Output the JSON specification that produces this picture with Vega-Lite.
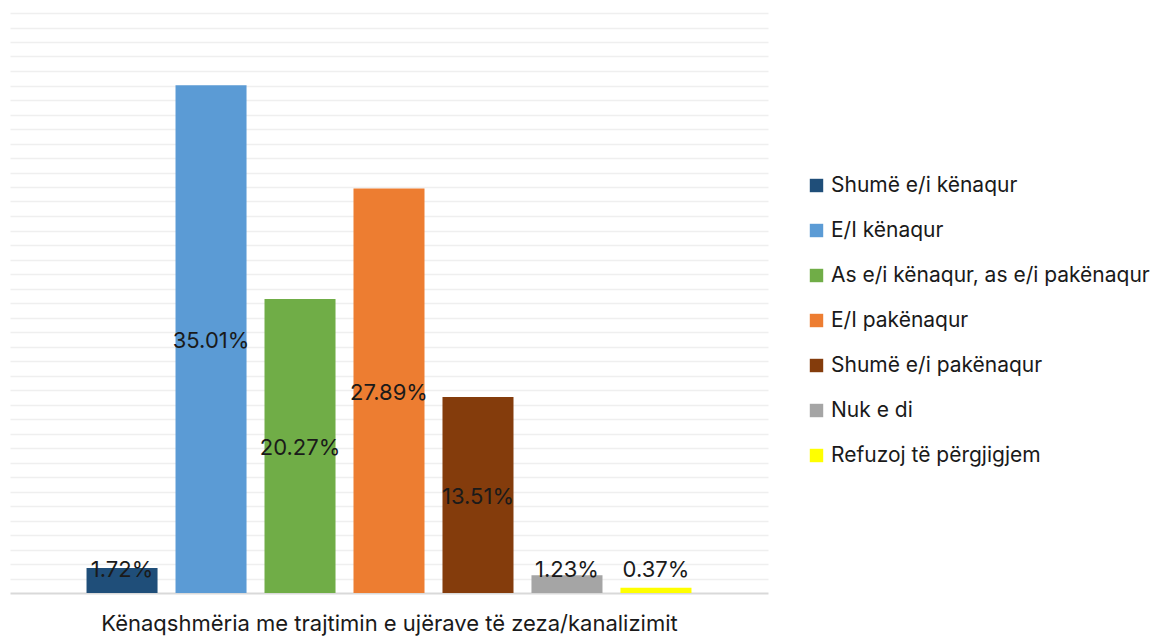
{
  "$schema": "https://vega.github.io/schema/vega-lite/v6.json",
  "width": 758,
  "height": 580,
  "autosize": {"type": "none"},
  "padding": {"left": 10, "top": 13, "right": 398, "bottom": 43},
  "background": "white",
  "config": {
    "font": "Inter",
    "view": {"stroke": null}
  },
  "data": {
    "values": [
      {"cat": "Shumë e/i kënaqur", "value": 1.72, "label": "1.72%"},
      {"cat": "E/I kënaqur", "value": 35.01, "label": "35.01%"},
      {"cat": "As e/i kënaqur, as e/i pakënaqur", "value": 20.27, "label": "20.27%"},
      {"cat": "E/I pakënaqur", "value": 27.89, "label": "27.89%"},
      {"cat": "Shumë e/i pakënaqur", "value": 13.51, "label": "13.51%"},
      {"cat": "Nuk e di", "value": 1.23, "label": "1.23%"},
      {"cat": "Refuzoj të përgjigjem", "value": 0.37, "label": "0.37%"}
    ]
  },
  "encoding": {
    "x": {
      "field": "cat",
      "type": "nominal",
      "sort": null,
      "scale": {"paddingInner": 0.202, "paddingOuter": 0.86},
      "axis": {
        "title": "Kënaqshmëria me trajtimin e ujërave të zeza/kanalizimit",
        "titleFontSize": 22,
        "titleFontWeight": "normal",
        "titleColor": "#1a1a1a",
        "titlePadding": 20,
        "labels": false,
        "ticks": false,
        "domainColor": "#d9d9d9",
        "domainWidth": 2
      }
    }
  },
  "layer": [
    {
      "mark": {"type": "bar"},
      "encoding": {
        "y": {
          "field": "value",
          "type": "quantitative",
          "scale": {"domain": [0, 40], "nice": false},
          "axis": {
            "title": null,
            "labels": false,
            "ticks": false,
            "domain": false,
            "values": [1,2,3,4,5,6,7,8,9,10,11,12,13,14,15,16,17,18,19,20,21,22,23,24,25,26,27,28,29,30,31,32,33,34,35,36,37,38,39,40],
            "gridColor": "#efefef",
            "gridWidth": 1.5
          }
        },
        "color": {
          "field": "cat",
          "type": "nominal",
          "sort": null,
          "scale": {
            "domain": ["Shumë e/i kënaqur", "E/I kënaqur", "As e/i kënaqur, as e/i pakënaqur", "E/I pakënaqur", "Shumë e/i pakënaqur", "Nuk e di", "Refuzoj të përgjigjem"],
            "range": ["#1f4e79", "#5b9bd5", "#70ad47", "#ed7d31", "#843c0c", "#a5a5a5", "#ffff00"]
          },
          "legend": {
            "title": null,
            "orient": "none",
            "legendX": 796,
            "legendY": 162,
            "symbolType": "square",
            "symbolSize": 180,
            "symbolStrokeWidth": 0,
            "labelFontSize": 21,
            "labelColor": "#1a1a1a",
            "labelLimit": 400,
            "labelOffset": 4,
            "rowPadding": 23
          }
        }
      }
    },
    {
      "transform": [{"calculate": "max(datum.value / 2, 1.72)", "as": "labelPos"}],
      "mark": {"type": "text", "fontSize": 22, "color": "#1a1a1a", "dy": 2},
      "encoding": {
        "y": {
          "field": "labelPos",
          "type": "quantitative",
          "scale": {"domain": [0, 40], "nice": false},
          "axis": {
            "title": null,
            "labels": false,
            "ticks": false,
            "domain": false,
            "values": [1,2,3,4,5,6,7,8,9,10,11,12,13,14,15,16,17,18,19,20,21,22,23,24,25,26,27,28,29,30,31,32,33,34,35,36,37,38,39,40],
            "gridColor": "#efefef",
            "gridWidth": 1.5
          }
        },
        "text": {"field": "label"}
      }
    }
  ]
}
